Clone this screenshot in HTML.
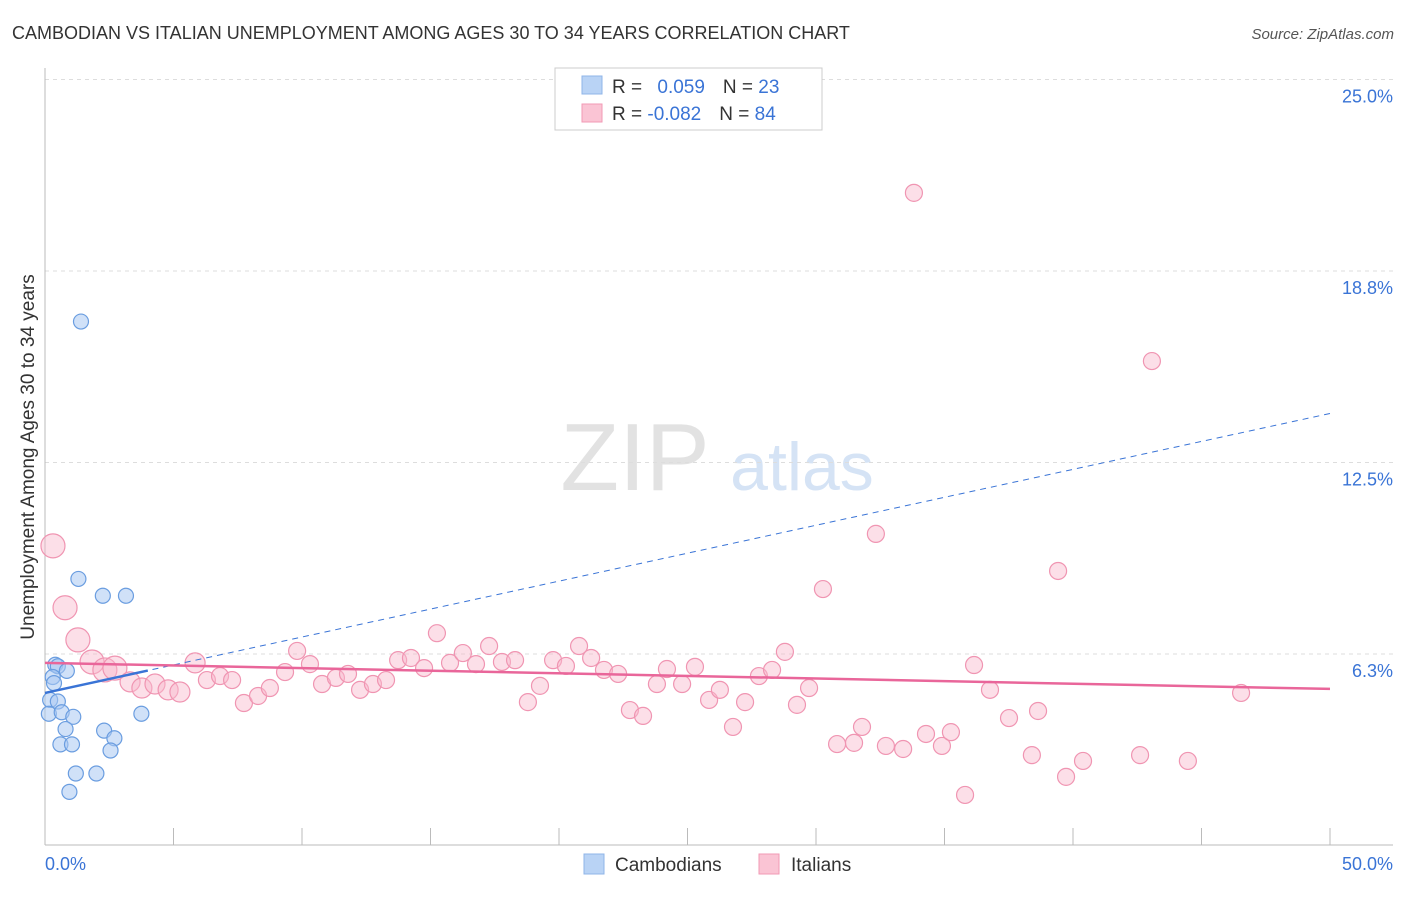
<!DOCTYPE html>
<html><head><meta charset="utf-8"><style>
body{margin:0;background:#fff;font-family:"Liberation Sans",sans-serif}
svg text{font-family:"Liberation Sans",sans-serif}
</style></head><body>
<svg id="chart" width="1406" height="892" xmlns="http://www.w3.org/2000/svg">
<text x="12" y="39" font-size="18" fill="#333">CAMBODIAN VS ITALIAN UNEMPLOYMENT AMONG AGES 30 TO 34 YEARS CORRELATION CHART</text>
<text x="1394" y="39" font-size="15" fill="#555" text-anchor="end" font-style="italic">Source: ZipAtlas.com</text>
<text x="635" y="490" font-size="96" fill="#e2e2e2" text-anchor="middle" font-family="Liberation Serif">ZIP</text>
<text x="802" y="490" font-size="68" fill="#d5e3f5" text-anchor="middle">atlas</text>
<g id="grid"></g><g id="axes"></g><g id="marks"></g>
<text transform="translate(34,457) rotate(-90)" font-size="19" fill="#333" text-anchor="middle">Unemployment Among Ages 30 to 34 years</text>
<g>
<rect x="555" y="68" width="267" height="62" fill="#fff" stroke="#ccc"/>
<rect x="582" y="76" width="20" height="18" fill="#b9d3f5" stroke="#8fb4e8"/>
<rect x="582" y="104" width="20" height="18" fill="#fac4d4" stroke="#f29ab5"/>
<text x="612" y="93" font-size="19" fill="#333">R = <tspan fill="#3a74d6" dx="10">0.059</tspan><tspan dx="18" fill="#333">N = </tspan><tspan fill="#3a74d6">23</tspan></text>
<text x="612" y="120" font-size="19" fill="#333">R = <tspan fill="#3a74d6">-0.082</tspan><tspan dx="18" fill="#333">N = </tspan><tspan fill="#3a74d6">84</tspan></text>
</g>
<g>
<rect x="584" y="854" width="20" height="20" fill="#b9d3f5" stroke="#8fb4e8"/>
<text x="615" y="871" font-size="19" fill="#333">Cambodians</text>
<rect x="759" y="854" width="20" height="20" fill="#fac4d4" stroke="#f29ab5"/>
<text x="791" y="871" font-size="19" fill="#333">Italians</text>
</g>
</svg>
<script>
const yTicks=[25,18.75,12.5,6.25];
const yTickLabels=["25.0%","18.8%","12.5%","6.3%"];
const xTickLabels=["0.0%","50.0%"];
const blueX=[1.4,1.3,2.25,3.15,0.4,0.5,0.85,0.3,0.35,0.2,0.5,0.15,0.65,1.1,3.75,0.8,2.3,2.7,0.6,1.05,2.55,1.2,2.0,0.95];
const blueY=[17.1,8.7,8.15,8.15,5.9,5.85,5.7,5.5,5.3,4.75,4.7,4.3,4.35,4.2,4.3,3.8,3.75,3.5,3.3,3.3,3.1,2.35,2.35,1.75];
const pinkX=[0.31,0.78,1.28,1.83,2.33,2.72,3.31,3.77,4.28,4.79,5.25,5.84,6.30,6.81,7.28,7.74,8.29,8.75,9.34,9.81,10.31,10.78,11.32,11.79,12.26,12.76,13.27,13.74,14.24,14.75,15.25,15.76,16.26,16.77,17.28,17.78,18.29,18.79,19.26,19.77,20.27,20.78,21.25,21.75,22.30,22.76,23.27,23.81,24.20,24.79,25.29,25.84,26.26,26.77,27.24,27.78,28.29,28.79,29.26,29.73,30.27,30.82,31.48,31.79,32.33,32.72,33.39,33.81,34.28,34.90,35.25,35.80,36.15,36.77,37.51,38.40,38.64,39.42,39.73,40.39,42.61,43.07,44.47,46.54];
const pinkY=[9.78,7.76,6.71,5.99,5.73,5.79,5.34,5.14,5.27,5.08,5.01,5.96,5.40,5.53,5.40,4.65,4.88,5.14,5.66,6.35,5.92,5.27,5.47,5.60,5.08,5.27,5.40,6.05,6.12,5.79,6.93,5.96,6.28,5.92,6.51,5.99,6.05,4.68,5.21,6.05,5.86,6.51,6.12,5.73,5.60,4.42,4.23,5.27,5.76,5.27,5.83,4.75,5.08,3.87,4.68,5.53,5.73,6.32,4.59,5.14,8.37,3.31,3.35,3.87,10.17,3.25,3.15,21.30,3.64,3.25,3.70,1.65,5.89,5.08,4.16,2.95,4.39,8.96,2.24,2.76,2.95,15.81,2.76,4.98];
const blueTrend=[4.98,14.1];
const pinkTrend=[5.96,5.11];
const X=v=>45+v*25.7, Y=v=>845.5-v*30.64;
const NS="http://www.w3.org/2000/svg";
function mk(parent,tag,attrs){const e=document.createElementNS(NS,tag);for(const k in attrs)e.setAttribute(k,attrs[k]);document.getElementById(parent).appendChild(e);return e;}
yTicks.forEach((t,i)=>{
 const l=mk('grid','line',{x1:45,x2:1393,y1:Y(t),y2:Y(t),stroke:'#ddd','stroke-dasharray':'4,4'});
 
 
 const tx=mk('grid','text',{x:1393,y:Y(t)+23,'font-size':18,fill:'#3a74d6','text-anchor':'end'});
 tx.textContent=yTickLabels[i];
 
 
});
let a=mk('axes','line',{x1:45,x2:45,y1:68,y2:845,stroke:'#bbb'});


a=mk('axes','line',{x1:45,x2:1393,y1:845,y2:845,stroke:'#bbb'});


for(let i=1;i<=10;i++){const t=mk('axes','line',{x1:X(i*5),x2:X(i*5),y1:828,y2:845,stroke:'#bbb'});
 
 }
[[0,'start',45],[50,'end',1393]].forEach((d,i)=>{const t=mk('axes','text',{x:d[2],y:870,'font-size':18,fill:'#3a74d6','text-anchor':d[1]});t.textContent=xTickLabels[i];
 
 });
pinkX.forEach((x,i)=>{const r=i<6?12:(i<12?10:8.5);
 const c=mk('marks','circle',{cx:X(x),cy:Y(pinkY[i]),r:r,fill:'rgba(248,184,204,0.45)',stroke:'#f095b2','stroke-width':1.2});
 
 });
blueX.forEach((x,i)=>{const c=mk('marks','circle',{cx:X(x),cy:Y(blueY[i]),r:7.5,fill:'rgba(170,200,242,0.55)',stroke:'#6a9de0','stroke-width':1.2});
 
 });
let tl=mk('marks','line',{x1:X(0),y1:Y(blueTrend[0]),x2:X(50),y2:Y(blueTrend[1]),stroke:'#3a74d6','stroke-width':1,'stroke-dasharray':'6,5'});


const bx=4;
tl=mk('marks','line',{x1:X(0),y1:Y(blueTrend[0]),x2:X(bx),y2:Y(blueTrend[0]+(blueTrend[1]-blueTrend[0])*bx/50),stroke:'#3a74d6','stroke-width':2.5});


tl=mk('marks','line',{x1:X(0),y1:Y(pinkTrend[0]),x2:X(50),y2:Y(pinkTrend[1]),stroke:'#e9669a','stroke-width':2.5});


</script>
</body></html>
